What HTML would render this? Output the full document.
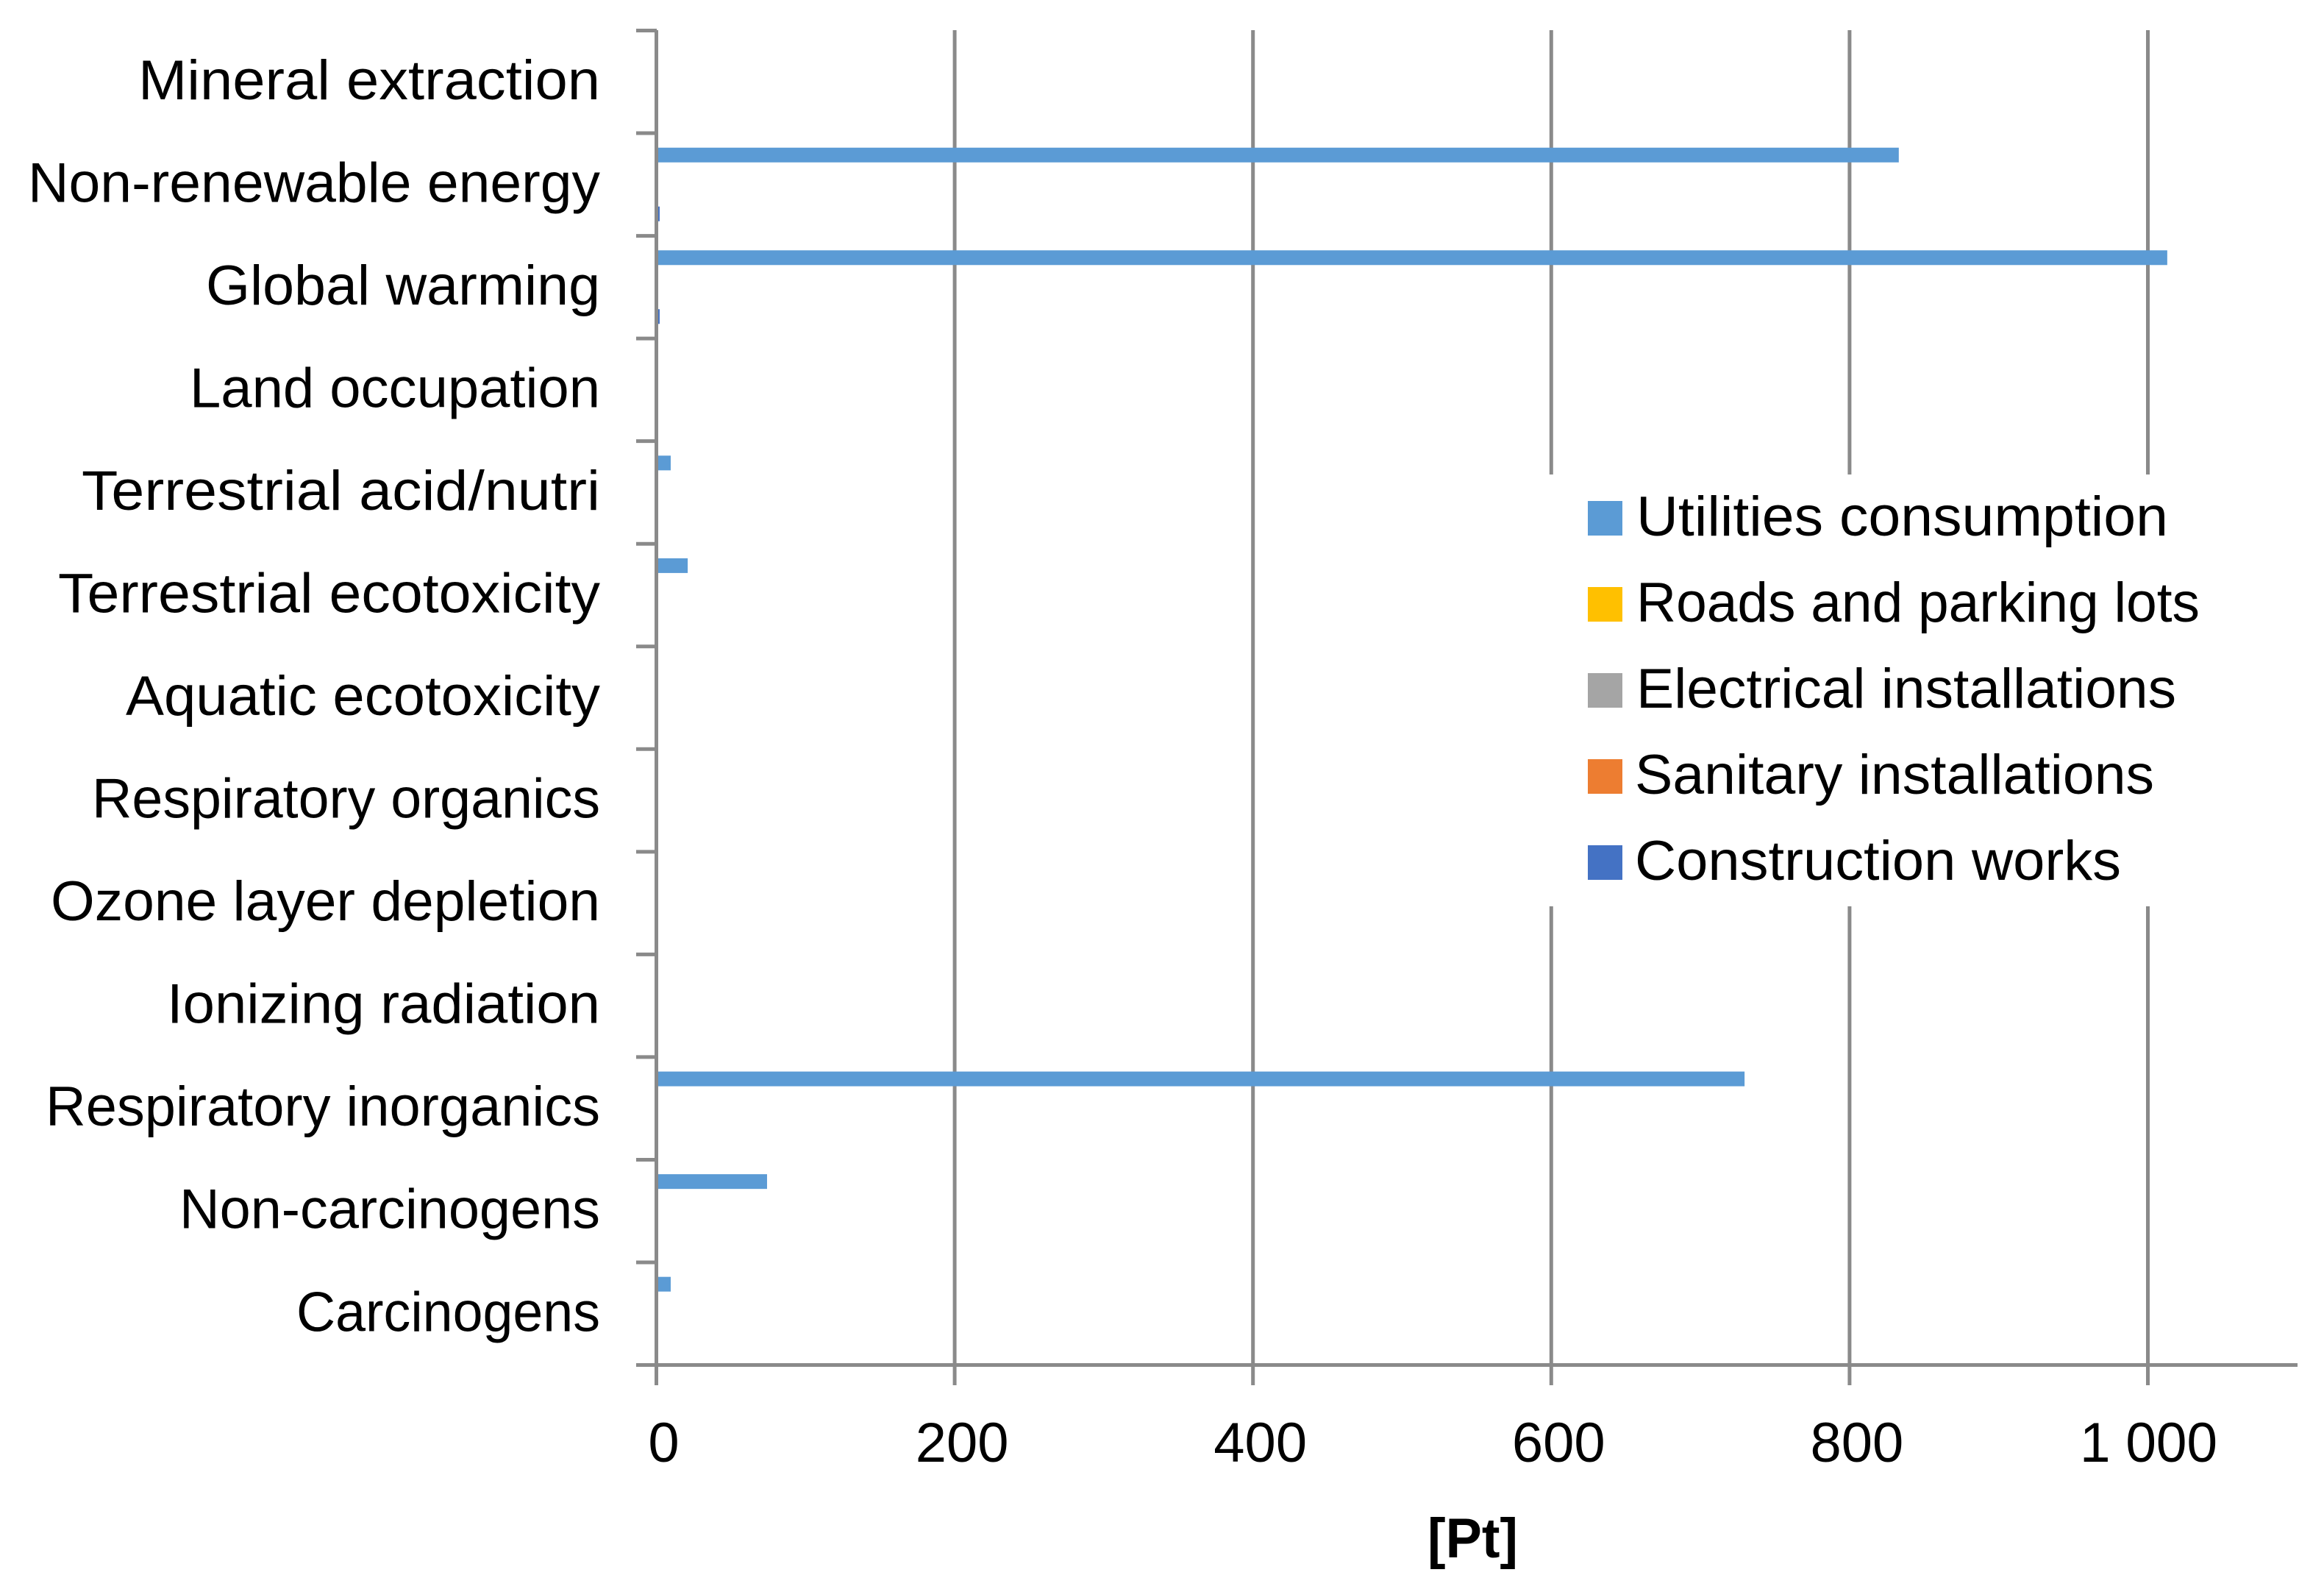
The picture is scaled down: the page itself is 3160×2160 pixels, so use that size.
<!DOCTYPE html>
<html lang="en">
<head>
<meta charset="utf-8">
<title>Impact categories by building element</title>
<style>
  html, body { margin: 0; padding: 0; background: #ffffff; }
  svg { display: block; }
  text { font-family: "Liberation Sans", sans-serif; fill: #000000; font-size: 76px; }
</style>
</head>
<body>
<svg id="chart" xmlns="http://www.w3.org/2000/svg" width="3160" height="2160" viewBox="0 0 3160 2160">
  <rect x="0" y="0" width="3160" height="2160" fill="#ffffff"></rect>
  <g id="grid"></g>
  <g id="bars"></g>
  <g id="axes"></g>
  <g id="cat-labels"></g>
  <g id="val-labels"></g>
  <text x="2002.5" y="2117" text-anchor="middle" font-weight="bold" textLength="123" lengthAdjust="spacingAndGlyphs">[Pt]</text>
  <g id="legend">
    <rect x="2090" y="645" width="950" height="587" fill="#ffffff"></rect>
  </g>
</svg>
<script>
const categories = ["Mineral extraction", "Non-renewable energy", "Global warming", "Land occupation", "Terrestrial acid/nutri", "Terrestrial ecotoxicity", "Aquatic ecotoxicity", "Respiratory organics", "Ozone layer depletion", "Ionizing radiation", "Respiratory inorganics", "Non-carcinogens", "Carcinogens"];
const seriesNames = ["Utilities consumption", "Roads and parking lots", "Electrical installations", "Sanitary installations", "Construction works"];
const utilitiesConsumption = [0, 833, 1013, 0, 9.6, 21, 0, 0, 0, 0, 729.6, 74.2, 9.6];
const roadsAndParkingLots = [0, 0, 0, 0, 0, 0, 0, 0, 0, 0, 0, 0, 0];
const electricalInstallations = [0, 0, 0, 0, 0, 0, 0, 0, 0, 0, 0, 0, 0];
const sanitaryInstallations = [0, 0, 0, 0, 0, 0, 0, 0, 0, 0, 0, 0, 0];
const constructionWorks = [0, 2.2, 2.2, 0, 0, 0, 0, 0, 0, 0, 0, 0, 0];
const tickValues = [0, 200, 400, 600, 800, 1000];
const tickLabels = ["0", "200", "400", "600", "800", "1 000"];

const seriesValues = [utilitiesConsumption, roadsAndParkingLots, electricalInstallations, sanitaryInstallations, constructionWorks];
const seriesColors = ["#5B9BD5", "#FFC000", "#A5A5A5", "#ED7D31", "#4472C4"];
const axisColor = "#8A8A8A";
const labelFit = {
  "Mineral extraction": 628, "Non-renewable energy": 778, "Global warming": 536, "Land occupation": 558,
  "Terrestrial acid/nutri": 705, "Terrestrial ecotoxicity": 737, "Aquatic ecotoxicity": 645, "Respiratory organics": 691,
  "Ozone layer depletion": 747, "Ionizing radiation": 589, "Respiratory inorganics": 754, "Non-carcinogens": 572, "Carcinogens": 413
};
const legendFit = {
  "Utilities consumption": 723, "Roads and parking lots": 766, "Electrical installations": 734,
  "Sanitary installations": 706, "Construction works": 661
};

const NS = "http://www.w3.org/2000/svg";
const X0 = 892.5, PX_PER_UNIT = 2.028, TOP = 41.5, BAND = 139.54, AXIS_END = 3124, GRID_BOTTOM = 1883;
const xScale = v => X0 + v * PX_PER_UNIT;
const bandTop = i => TOP + i * BAND;
const barTop = (i, s) => bandTop(i) + 19.7 + s * 20;
const BAR_H = 20;
function make(parent, tag, attrs, content) {
  const el = document.createElementNS(NS, tag);
  for (const k in attrs) el.setAttribute(k, attrs[k]);
  if (content !== undefined) el.textContent = content;
  document.getElementById(parent).appendChild(el);
  return el;
}

tickValues.forEach((v, t) => {
  const line = make("grid", "line", { x1: xScale(v), x2: xScale(v), y1: 41, y2: GRID_BOTTOM, stroke: axisColor, "stroke-width": 5 });
  
  
  const offset = v >= 1000 ? 1 : 10;
  const attrs = { x: xScale(v) + offset, y: 1987, "text-anchor": "middle" };
  if (tickLabels[t].length > 3) { attrs.textLength = 187; attrs.lengthAdjust = "spacingAndGlyphs"; }
  const label = make("val-labels", "text", attrs, tickLabels[t]);
  
  
});

seriesValues.forEach((values, s) => {
  values.forEach((v, i) => {
    const bar = make("bars", "rect", { x: X0, y: barTop(i, s), width: Math.max(0, xScale(v) - X0), height: BAR_H, fill: seriesColors[s] });
    
    
  });
});

const yAxis = make("axes", "line", { x1: X0, x2: X0, y1: 41, y2: GRID_BOTTOM, stroke: axisColor, "stroke-width": 5 });


const xAxis = make("axes", "line", { x1: 865, x2: AXIS_END, y1: bandTop(categories.length), y2: bandTop(categories.length), stroke: axisColor, "stroke-width": 5 });



categories.forEach((c, i) => {
  const tick = make("axes", "line", { x1: 865, x2: 893, y1: bandTop(i), y2: bandTop(i), stroke: axisColor, "stroke-width": 5 });
  
  
  const label = make("cat-labels", "text", { x: 816, y: bandTop(i) + BAND / 2 + 23.5, "text-anchor": "end", textLength: labelFit[c], lengthAdjust: "spacingAndGlyphs" }, c);
  
  
});

seriesNames.forEach((name, s) => {
  const swatchTop = 681 + s * 117;
  const swatch = make("legend", "rect", { x: 2159, y: swatchTop, width: 47, height: 47, fill: seriesColors[s] });
  
  
  const label = make("legend", "text", { x: s < 3 ? 2225 : 2223, y: swatchTop + 47, textLength: legendFit[name], lengthAdjust: "spacingAndGlyphs" }, name);
  
  
});
</script>
</body>
</html>
